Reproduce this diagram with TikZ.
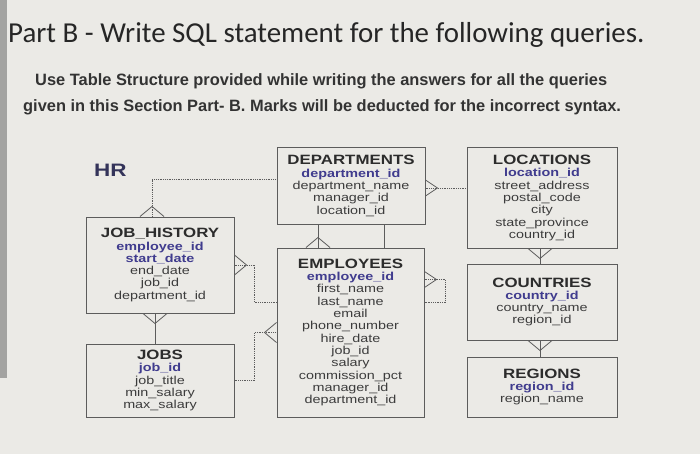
\documentclass[tikz,border=0pt]{standalone}
\usepackage{fontspec}
\setmainfont{Liberation Sans}
\newfontfamily\titlefont{Carlito}
\newfontfamily\notefont{Liberation Sans}
\newfontfamily\tblfont[FakeStretch=1.25]{Liberation Sans}

\definecolor{paper}{HTML}{EBEAE6}
\definecolor{band}{HTML}{A3A3A1}
\definecolor{boxline}{HTML}{5C5C5C}
\definecolor{hdgray}{HTML}{2C2C2C}
\definecolor{fldgray}{HTML}{3C3C3C}
\definecolor{pkblue}{HTML}{403C8E}
\definecolor{hrnavy}{HTML}{34345A}

% table heading and primary key
\newcommand{\hd}[1]{{\fontsize{13.5}{14}\selectfont\bfseries\color{hdgray}#1}}
\newcommand{\pk}[1]{{\bfseries\color{pkblue}#1}}

\begin{document}
\begin{tikzpicture}[x=1pt,y=-1pt,
  tbl/.style={draw=boxline, line width=1pt, shape=rectangle, align=center,
    inner sep=0pt, text=fldgray,
    font=\tblfont\fontsize{11.5}{12.3}\selectfont},
  rel/.style={draw=boxline, line width=0.8pt},
  opt/.style={rel, densely dotted},
  note/.style={anchor=base west, inner sep=0pt, text=black!80,
    font=\notefont\bfseries\fontsize{16.4}{18}\selectfont}]

\fill[paper] (0,0) rectangle (700,454);
\fill[band] (0,0) rectangle (7,378);
\useasboundingbox (0,0) rectangle (700,454);

% heading text
\node (title) [anchor=base west, inner sep=0pt, font=\titlefont\fontsize{28.9}{31}\selectfont,
  text=black!85] at (8,43) {Part B - Write SQL statement for the following queries.};
\node (note1) [note] at (35,86) {Use Table Structure provided while writing the answers for all the queries};
\node (note2) [note] at (23,112) {given in this Section Part- B. Marks will be deducted for the incorrect syntax.};

\node (hr) [anchor=base west, inner sep=0pt, font=\tblfont\bfseries\fontsize{18}{19}\selectfont,
  text=hrnavy] at (94,177) {HR};

% tables
\node (jobhist) [tbl, minimum width=148pt, minimum height=96pt] at (160,265)
  {\hd{JOB\_HISTORY}\\ \pk{employee\_id}\\ \pk{start\_date}\\ end\_date\\ job\_id\\ department\_id};
\node (jobs) [tbl, minimum width=148pt, minimum height=73pt] at (160,380.5)
  {\hd{JOBS}\\ \pk{job\_id}\\ job\_title\\ min\_salary\\ max\_salary};
\node (depts) [tbl, minimum width=148pt, minimum height=76pt] at (351,186)
  {\hd{DEPARTMENTS}\\ \pk{department\_id}\\ department\_name\\ manager\_id\\ location\_id};
\node (emps) [tbl, minimum width=147pt, minimum height=169pt] at (350.5,332.5)
  {\hd{EMPLOYEES}\\ \pk{employee\_id}\\ first\_name\\ last\_name\\ email\\ phone\_number\\
   hire\_date\\ job\_id\\ salary\\ commission\_pct\\ manager\_id\\ department\_id};
\node (locs) [tbl, minimum width=150pt, minimum height=100pt] at (542,198)
  {\hd{LOCATIONS}\\ \pk{location\_id}\\ street\_address\\ postal\_code\\ city\\
   state\_province\\ country\_id};
\node (ctrys) [tbl, minimum width=150pt, minimum height=76pt] at (542,302)
  {\hd{COUNTRIES}\\ \pk{country\_id}\\ country\_name\\ region\_id};
\node (regs) [tbl, minimum width=150pt, minimum height=60pt] at (542,387)
  {\hd{REGIONS}\\ \pk{region\_id}\\ region\_name};

% relationships
\coordinate (jh top) at ([xshift=-8pt]jobhist.north);
\draw[opt] (jh top) |- ([yshift=7pt]depts.west);
\draw[rel] (jh top) ++(-12,0) -- ++(12,-10) -- ++(12,10);

\coordinate (dp right) at ([yshift=-2pt]depts.east);
\draw[opt] (dp right) -- (dp right -| locs.west);
\draw[rel] (dp right) ++(0,-8) -- ++(12,8) -- ++(-12,8);

\coordinate (dp left) at ([xshift=-33pt]depts.south);
\draw[rel] (dp left) -- (dp left |- emps.north);
\draw[rel] (dp left |- emps.north) ++(-12,0) -- ++(12,-10) -- ++(12,10);
\coordinate (dp mgr) at ([xshift=33pt]depts.south);
\draw[rel] (dp mgr) -- (dp mgr |- emps.north);

\coordinate (em self) at ([yshift=53pt]emps.east);
\coordinate (em back) at ([yshift=30pt]emps.east);
\draw[opt] (em self) -- ++(21,0) |- (em back);
\draw[rel] (em self) ++(0,-8) -- ++(12,8) -- ++(-12,8);

\coordinate (jh right) at (jobhist.east);
\coordinate (em hist) at ([yshift=30pt]emps.west);
\draw[opt] (jh right) -- ++(20,0) |- (em hist);
\draw[rel] (jh right) ++(0,-10) -- ++(12,10) -- ++(-12,10);

\coordinate (jb right) at (jobs.east);
\coordinate (em job) at (emps.west);
\draw[opt] (jb right) -- ++(20,0) |- (em job);
\draw[rel] (em job) ++(0,-10) -- ++(-12,10) -- ++(12,10);

\coordinate (jb top) at ([xshift=-5pt]jobs.north);
\draw[rel] (jb top) -- (jb top |- jobhist.south);
\draw[rel] (jb top |- jobhist.south) ++(-12,0) -- ++(12,10) -- ++(12,-10);

\coordinate (lc bot) at ([xshift=-2pt]locs.south);
\draw[rel] (lc bot) -- (lc bot |- ctrys.north);
\draw[rel] (lc bot) ++(-12,0) -- ++(12,10) -- ++(12,-10);

\coordinate (ct bot) at ([xshift=-2pt]ctrys.south);
\draw[rel] (ct bot) -- (ct bot |- regs.north);
\draw[rel] (ct bot) ++(-12,0) -- ++(12,10) -- ++(12,-10);
\end{tikzpicture}
\end{document}
